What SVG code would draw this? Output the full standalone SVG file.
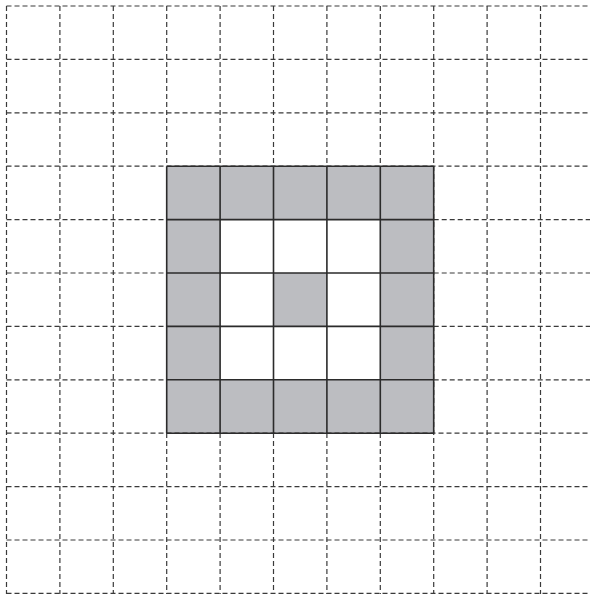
<svg xmlns="http://www.w3.org/2000/svg" width="590" height="597" viewBox="0 0 590 597">
<style>
.g{stroke:#3a3a3a;stroke-width:1.2;stroke-dasharray:5 3;fill:none}
.cell{fill:#bcbdc1}
.s{stroke:#2b2b2b;stroke-width:1.6;fill:none}
</style>
<rect width="590" height="597" fill="#fff"/>
<g id="shaded">
<rect class="cell" x="166.7" y="166.2" width="267" height="53.4"/>
<rect class="cell" x="166.7" y="379.8" width="267" height="53.4"/>
<rect class="cell" x="166.7" y="219.6" width="53.4" height="160.2"/>
<rect class="cell" x="380.3" y="219.6" width="53.4" height="160.2"/>
<rect class="cell" x="273.5" y="273" width="53.4" height="53.4"/>
</g>
<g id="grid">
<path class="g" d="M6.5 6V594M59.9 6V594M113.3 6V594M166.7 6V166M166.7 433V594M220.1 6V166M220.1 433V594M273.5 6V166M273.5 433V594M326.9 6V166M326.9 433V594M380.3 6V166M380.3 433V594M433.7 6V594M487.1 6V594M540.5 6V594"/>
<path class="g" d="M6.5 6H596M6.5 59.4H596M6.5 112.8H596M6.5 166.2H596M6.5 219.6H167M433.7 219.6H596M6.5 273H167M433.7 273H596M6.5 326.4H167M433.7 326.4H596M6.5 379.8H167M433.7 379.8H596M6.5 433.2H596M6.5 486.6H596M6.5 540H596M6.5 593.4H596"/>
</g>
<g id="box">
<path class="s" d="M166.7 166.2H433.7M166.7 219.6H433.7M166.7 273H433.7M166.7 326.4H433.7M166.7 379.8H433.7M166.7 433.2H433.7M166.7 166.2V433.2M220.1 166.2V433.2M273.5 166.2V433.2M326.9 166.2V433.2M380.3 166.2V433.2M433.7 166.2V433.2"/>
</g>
</svg>
